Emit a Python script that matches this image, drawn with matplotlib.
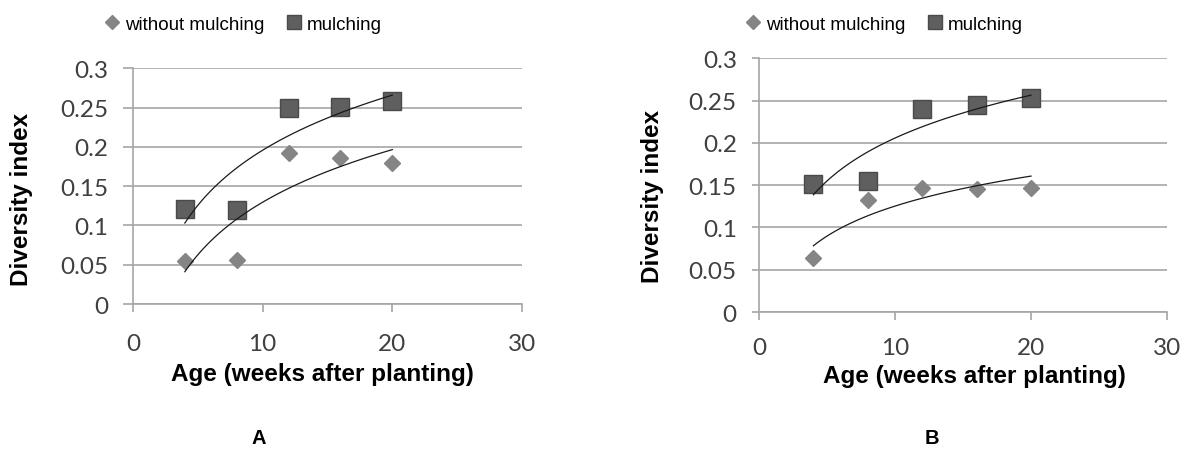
import numpy as np
import matplotlib
matplotlib.use('Agg')
import matplotlib.pyplot as plt
from matplotlib.lines import Line2D

# data
weeks = [4, 8, 12, 16, 20]
a_without = [0.055, 0.056, 0.192, 0.186, 0.179]
a_mulch = [0.121, 0.120, 0.250, 0.251, 0.258]
b_without = [0.064, 0.133, 0.147, 0.146, 0.147]
b_mulch = [0.151, 0.155, 0.240, 0.245, 0.253]

x_ticks = [0, 10, 20, 30]
y_ticks = [0, 0.05, 0.1, 0.15, 0.2, 0.25, 0.3]
y_labels = ['0', '0.05', '0.1', '0.15', '0.2', '0.25', '0.3']
legend_labels = ['without mulching', 'mulching']

W, H = 1187, 452
fig = plt.figure(figsize=(W / 100, H / 100), dpi=100)

grid_col = '#a6a6a6'
sq_face = '#5f5f5f'
sq_edge = '#4a4a4a'
dia_face = '#858585'
tick_font = dict(family=['Lato', 'DejaVu Sans'], size=17.5, color='#404040')
bold_font = dict(family=['Liberation Sans', 'DejaVu Sans'], weight='bold', size=17.5)


def px_box(left, top, right, bottom):
    return [left / W, 1 - bottom / H, (right - left) / W, (bottom - top) / H]


def log_trend(x, y):
    # Excel style logarithmic trendline: y = a + b ln(x)
    b, a = np.polyfit(np.log(x), y, 1)
    xs = np.linspace(min(x), max(x), 100)
    return xs, a + b * np.log(xs)


def panel(box, without, mulch, ytick_len, xpad, leg_left, xlab_pos, ylab_pos, letter_pos, letter):
    ax = fig.add_axes(px_box(*box))
    ax.set_xlim(0, 30)
    ax.set_ylim(0, 0.3005)
    ax.set_xticks(x_ticks)
    ax.set_yticks(y_ticks)
    ax.set_yticklabels(y_labels)
    ax.set_xticklabels([str(t) for t in x_ticks])
    for lab in ax.get_xticklabels() + ax.get_yticklabels():
        lab.set_fontfamily(tick_font['family'])
        lab.set_fontsize(tick_font['size'])
        lab.set_color(tick_font['color'])

    ax.grid(axis='y', color=grid_col, linewidth=1.2)
    ax.set_axisbelow(True)
    for s in ['top', 'right']:
        ax.spines[s].set_visible(False)
    for s in ['left', 'bottom']:
        ax.spines[s].set_color(grid_col)
        ax.spines[s].set_linewidth(1.2)
    ax.tick_params(axis='y', direction='out', length=ytick_len, width=1.2, color=grid_col, pad=11)
    ax.tick_params(axis='x', direction='out', length=6, width=1.2, color=grid_col, pad=xpad)

    ax.plot(weeks, without, linestyle='none', marker='D', markersize=8.2,
            markerfacecolor=dia_face, markeredgecolor=dia_face, zorder=3)
    ax.plot(weeks, mulch, linestyle='none', marker='s', markersize=13.5,
            markerfacecolor=sq_face, markeredgecolor=sq_edge, zorder=3)

    for series in [without, mulch]:
        xs, ys = log_trend(weeks, series)
        ax.plot(xs, ys, color='#1a1a1a', linewidth=0.9, zorder=4)

    handles = [
        Line2D([], [], linestyle='none', marker='D', markersize=7,
               markerfacecolor=dia_face, markeredgecolor=dia_face),
        Line2D([], [], linestyle='none', marker='s', markersize=10.5,
               markerfacecolor=sq_face, markeredgecolor=sq_edge),
    ]
    ax.legend(handles, legend_labels, loc='center left',
              bbox_to_anchor=(leg_left / W, 1 - 25 / H), bbox_transform=fig.transFigure,
              ncol=2, frameon=False, borderpad=0, borderaxespad=0,
              handlelength=0.8, handletextpad=0.3, columnspacing=1.2,
              prop=dict(family=['Liberation Sans', 'DejaVu Sans'], size=13.5))

    fig.text(xlab_pos[0] / W, 1 - xlab_pos[1] / H, 'Age (weeks after planting)',
             ha='center', va='center', **bold_font)
    fig.text(ylab_pos[0] / W, 1 - ylab_pos[1] / H, 'Diversity index', rotation=90,
             ha='center', va='center', **bold_font)
    fig.text(letter_pos[0] / W, 1 - letter_pos[1] / H, letter, ha='center', va='center',
             family=['Liberation Sans', 'DejaVu Sans'], weight='bold', size=14.5)
    return ax


panel((133, 69, 522, 305), a_without, a_mulch, 7, 15, 104, (322, 375), (22, 199), (259, 439), 'A')
panel((759, 59, 1167, 313), b_without, b_mulch, 5, 12, 745, (974, 377), (652, 196), (932, 439), 'B')

fig.savefig('out.png', dpi=100, facecolor='white')
